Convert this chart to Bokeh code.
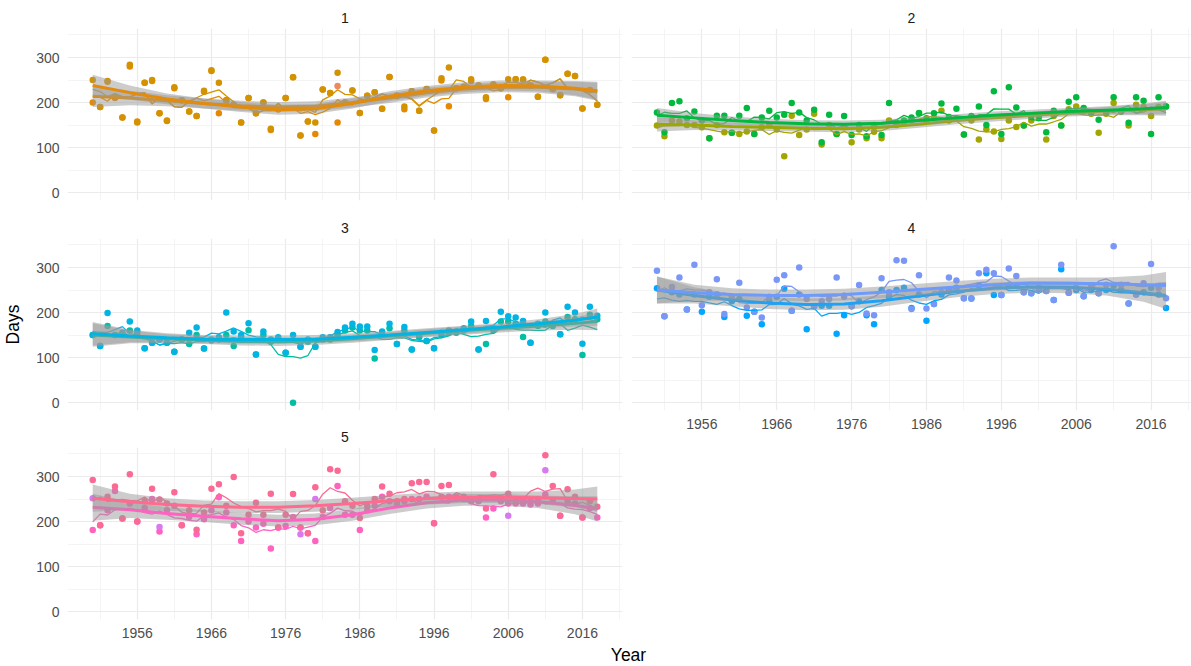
import pandas as pd
from bokeh.plotting import figure
from bokeh.layouts import row, column
from bokeh.models import Range1d, FixedTicker, Label
from bokeh.embed import file_html
from bokeh.resources import INLINE

# ---------------- data ----------------
years = list(range(1950, 2019))
knot_years = [1950, 1955, 1960, 1965, 1970, 1975, 1980, 1985, 1990, 1995, 2000, 2005, 2010, 2015, 2018]
major_x = [1956, 1966, 1976, 1986, 1996, 2006, 2016]
minor_x = [1946, 1951, 1961, 1971, 1981, 1991, 2001, 2011, 2021]
major_y = [0, 100, 200, 300]
minor_y = [50, 150, 250, 350]

# Panel 1
p1_a = [250, 190, 248, 210, 167, 284, 156, 244, 250, 176,
        159, 234, 205, 180, 170, 226, 272, 244, 205, 195,
        156, 210, 176, 200, 142, 185, 210, 256, 127, 158,
        156, 229, 221, 266, 200, 227, 177, 215, 223, 186,
        257, 215, 191, 225, 182, 230, 138, 254, 278, 232,
        235, 252, 238, 212, 240, 232, 252, 252, 251, 238,
        213, 295, 230, 216, 264, 259, 187, 228, 195]
p1_b = [200, 190, 246, 212, 167, 280, 158, 244, 248, 176,
        160, 232, 205, 180, 170, 224, 270, 176, 205, 195,
        156, 210, 176, 200, 139, 185, 210, 256, 127, 158,
        130, 229, 221, 156, 200, 227, 177, 215, 223, 186,
        257, 215, 185, 225, 182, 230, 138, 249, 192, 232,
        235, 248, 238, 208, 240, 232, 212, 252, 251, 238,
        213, 295, 230, 216, 264, 259, 187, 228, 195]
p1_c_years = [1983]
p1_c = [237]
p1_smooth_a = [238, 222, 208, 198, 190, 184, 186, 198, 214, 226, 234, 238, 237, 232, 226]
p1_smooth_b = [214, 210, 204, 198, 193, 190, 192, 200, 210, 222, 230, 234, 234, 230, 224]
p1_se = [24, 16, 12, 11, 11, 11, 11, 11, 11, 11, 11, 11, 12, 16, 20]

# Panel 2
p2_a = [178, 134, 199, 203, 165, 180, 160, 121, 171, 171,
        133, 171, 188, 130, 167, 182, 167, 173, 199, 178,
        160, 184, 112, 173, 130, 170, 128, 150, 125, 150,
        128, 199, 155, 160, 167, 177, 165, 176, 198, 168,
        186, 129, 170, 191, 150, 225, 130, 234, 189, 149,
        168, 170, 134, 182, 149, 202, 212, 188, 178, 162,
        178, 212, 180, 155, 212, 204, 130, 212, 191]
p2_b = [149, 125, 160, 158, 150, 150, 145, 121, 150, 134,
        133, 130, 136, 130, 145, 150, 140, 81, 171, 128,
        140, 175, 107, 150, 130, 145, 112, 140, 121, 135,
        121, 160, 150, 155, 160, 176, 160, 165, 182, 160,
        165, 129, 160, 118, 141, 136, 119, 160, 146, 149,
        160, 165, 118, 170, 149, 185, 191, 180, 175, 133,
        175, 199, 180, 149, 195, 190, 170, 190, 191]
p2_smooth_a = [172, 166, 160, 156, 153, 152, 154, 160, 166, 172, 176, 180, 183, 186, 189]
p2_smooth_b = [152, 150, 147, 145, 143, 142, 145, 152, 160, 166, 172, 177, 181, 184, 186]
p2_se = [16, 11, 9, 8, 8, 8, 8, 8, 8, 8, 8, 8, 9, 12, 15]

# Panel 3
p3_a = [150, 126, 199, 150, 155, 180, 160, 121, 133, 140,
        133, 113, 140, 155, 167, 120, 140, 145, 200, 158,
        150, 176, 107, 158, 140, 145, 111, 150, 124, 140,
        124, 145, 145, 157, 167, 175, 169, 169, 117, 158,
        175, 130, 168, 118, 150, 137, 121, 155, 160, 158,
        165, 180, 118, 181, 165, 202, 192, 189, 181, 133,
        175, 200, 175, 152, 213, 200, 131, 213, 193]
p3_b = [150, 126, 170, 150, 150, 160, 155, 121, 133, 140,
        133, 113, 140, 130, 150, 120, 138, 140, 150, 126,
        145, 161, 107, 150, 135, 140, 111, 0, 124, 135,
        124, 140, 140, 150, 160, 167, 160, 160, 98, 150,
        165, 130, 160, 118, 145, 137, 121, 150, 155, 155,
        160, 170, 118, 130, 160, 180, 180, 175, 146, 133,
        170, 180, 170, 152, 190, 185, 106, 195, 185]
p3_smooth_a = [153, 148, 144, 141, 140, 140, 141, 145, 150, 156, 162, 168, 175, 183, 190]
p3_smooth_b = [150, 146, 142, 139, 136, 135, 137, 142, 148, 154, 160, 165, 170, 176, 180]
p3_se = [26, 14, 10, 9, 9, 9, 9, 9, 9, 9, 9, 9, 10, 14, 19]

# Panel 4
p4_a = [293, 192, 257, 278, 207, 306, 216, 245, 274, 197,
        235, 266, 211, 202, 189, 235, 273, 283, 204, 300,
        230, 214, 225, 230, 278, 235, 214, 261, 198, 194,
        276, 245, 316, 315, 208, 283, 209, 219, 245, 278,
        271, 232, 231, 287, 295, 287, 239, 298, 281, 245,
        243, 255, 248, 228, 306, 244, 255, 236, 260, 243,
        262, 347, 262, 220, 240, 265, 308, 255, 232]
p4_b = [254, 192, 245, 240, 207, 240, 202, 235, 240, 190,
        225, 230, 193, 202, 174, 225, 235, 253, 204, 240,
        163, 214, 215, 215, 153, 194, 214, 225, 194, 174,
        250, 235, 250, 255, 210, 240, 182, 219, 240, 250,
        255, 232, 231, 260, 287, 239, 239, 260, 260, 245,
        243, 250, 248, 228, 296, 244, 250, 236, 250, 243,
        250, 260, 250, 220, 240, 245, 255, 240, 210]
p4_smooth_a = [250, 244, 240, 238, 238, 240, 245, 251, 257, 262, 265, 265, 264, 262, 260]
p4_smooth_b = [250, 238, 228, 221, 218, 219, 226, 237, 247, 254, 257, 256, 252, 244, 238]
p4_se = [30, 18, 14, 13, 13, 13, 13, 13, 13, 13, 13, 13, 14, 20, 30]

# Panel 5
p5_a = [292, 192, 255, 278, 207, 305, 200, 245, 273, 249,
        240, 265, 192, 225, 182, 220, 273, 283, 235, 299,
        174, 215, 242, 215, 262, 187, 215, 261, 187, 174,
        276, 225, 316, 313, 245, 235, 208, 235, 250, 278,
        262, 245, 250, 285, 288, 288, 196, 279, 281, 255,
        255, 250, 250, 229, 305, 250, 262, 245, 250, 245,
        250, 347, 279, 213, 272, 255, 209, 245, 233]
p5_b = [181, 192, 225, 268, 207, 240, 200, 230, 250, 178,
        225, 235, 192, 210, 172, 205, 225, 254, 220, 192,
        157, 200, 187, 195, 140, 187, 190, 210, 187, 174,
        157, 210, 230, 279, 215, 215, 181, 225, 235, 255,
        245, 240, 245, 250, 250, 255, 196, 255, 255, 250,
        250, 245, 245, 209, 229, 245, 240, 240, 240, 238,
        240, 260, 245, 213, 245, 240, 209, 230, 209]
p5_c_years = [1950, 1959, 1978, 1980, 2006, 2011]
p5_c = [252, 188, 172, 250, 213, 314]
p5_smooth_a = [252, 244, 238, 234, 232, 232, 235, 240, 246, 251, 254, 254, 253, 251, 250]
p5_smooth_b = [232, 226, 218, 212, 206, 202, 205, 215, 230, 242, 248, 248, 244, 236, 228]
p5_se = [30, 18, 14, 13, 13, 13, 13, 13, 13, 13, 13, 13, 14, 20, 28]

# ---------------- styling / layout constants ----------------
FONT = "Liberation Sans"
FRAME_W, FRAME_H = 560, 172
X_RANGE = (1946.6, 2021.4)
Y_RANGE = (-17.4, 364.4)
RIBBON = "#999999"
RIBBON_ALPHA = 0.5


def rolling(vals):
    return pd.Series(vals, dtype=float).rolling(5, center=True, min_periods=1).mean().tolist()


def panel(num, series, extra, smooths, se, show_x, show_y, ylabel, left, right, top, bottom):
    p = figure(width=left + FRAME_W + right, height=top + FRAME_H + bottom,
               x_range=Range1d(*X_RANGE), y_range=Range1d(*Y_RANGE),
               min_border_left=left, min_border_right=right,
               min_border_top=top, min_border_bottom=bottom,
               output_backend="svg", toolbar_location=None, title=str(num))
    p.outline_line_color = None
    p.background_fill_color = "white"
    p.border_fill_color = "white"
    t = p.title
    t.align = "center"
    t.text_font = FONT
    t.text_font_size = "14px"
    t.text_font_style = "normal"
    t.text_color = "#1A1A1A"
    t.standoff = 12

    xt = FixedTicker(ticks=major_x, minor_ticks=minor_x)
    yt = FixedTicker(ticks=major_y, minor_ticks=minor_y)
    p.xaxis.ticker = xt
    p.yaxis.ticker = yt
    p.xgrid.ticker = xt
    p.ygrid.ticker = yt
    for g in (p.xgrid, p.ygrid):
        g.grid_line_color = "#EBEBEB"
        g.grid_line_width = 1.2
        g.minor_grid_line_color = "#F1F1F1"
        g.minor_grid_line_width = 0.8
    for ax in (p.xaxis, p.yaxis):
        ax.axis_line_color = None
        ax.major_tick_line_color = None
        ax.minor_tick_line_color = None
        ax.major_tick_out = 0
        ax.major_tick_in = 0
        ax.minor_tick_out = 0
        ax.minor_tick_in = 0
        ax.major_label_text_font = FONT
        ax.major_label_text_font_size = "14px"
        ax.major_label_text_color = "#4D4D4D"
        ax.major_label_standoff = 8
    p.xaxis.visible = show_x
    p.yaxis.visible = show_y
    if ylabel:
        p.yaxis.axis_label = ylabel
        p.yaxis.axis_label_text_font = FONT
        p.yaxis.axis_label_text_font_size = "17.5px"
        p.yaxis.axis_label_text_font_style = "normal"
        p.yaxis.axis_label_text_color = "#000000"
        p.yaxis.axis_label_standoff = 10

    # points (background series first)
    for vals, color in reversed(series):
        p.scatter(years, vals, size=6.5, color=color, line_color=None)
    for yrs, vals, color in extra:
        p.scatter(yrs, vals, size=6.5, color=color, line_color=None)
    # thin running-mean lines
    for vals, color in reversed(series):
        p.line(years, rolling(vals), line_color=color, line_width=1.3)
    # smooths with ribbons
    for sm, color in smooths:
        lo = [v - e for v, e in zip(sm, se)]
        hi = [v + e for v, e in zip(sm, se)]
        p.varea(x=knot_years, y1=lo, y2=hi, fill_color=RIBBON, fill_alpha=RIBBON_ALPHA)
        p.line(knot_years, sm, line_color=color, line_width=3)
    return p


L, GAP_L, GAP_R = 62, 4, 5

f1 = panel(1, [(p1_a, "#D39200"), (p1_b, "#E58A00")], [(p1_c_years, p1_c, "#EC8A5E")],
           [(p1_smooth_b, "#E58A00"), (p1_smooth_a, "#E38B0B")], p1_se,
           False, True, None, L, GAP_L, 28, 10)
f2 = panel(2, [(p2_a, "#00B93E"), (p2_b, "#A3A500")], [],
           [(p2_smooth_b, "#9AA800"), (p2_smooth_a, "#00B93E")], p2_se,
           False, False, None, GAP_R, 0, 28, 10)
f3 = panel(3, [(p3_a, "#00B4E4"), (p3_b, "#00BFA5")], [],
           [(p3_smooth_b, "#00BFA5"), (p3_smooth_a, "#00B4E4")], p3_se,
           False, True, "Days", L, GAP_L, 28, 10)
f4 = panel(4, [(p4_a, "#7A97F8"), (p4_b, "#00A6FF")], [],
           [(p4_smooth_b, "#1FA2F5"), (p4_smooth_a, "#6E9BFA")], p4_se,
           True, False, None, GAP_R, 0, 28, 22)
f5 = panel(5, [(p5_a, "#FB6A94"), (p5_b, "#FF62C0")], [(p5_c_years, p5_c, "#D77AF0")],
           [(p5_smooth_b, "#FF62C0"), (p5_smooth_a, "#FF6A8E")], p5_se,
           True, True, None, L, GAP_L, 27, 24)

fy = figure(width=1191, height=23, x_range=Range1d(0, 1), y_range=Range1d(0, 1),
            min_border=0, output_backend="svg", toolbar_location=None)
fy.axis.visible = False
fy.grid.visible = False
fy.outline_line_color = None
fy.add_layout(Label(x=628, y=12, x_units="screen", y_units="screen", text="Year",
                    text_align="center", text_baseline="middle", text_font=FONT,
                    text_font_size="17.5px", text_color="#000000"))

layout = column(row(column(f1, f3, f5), column(f2, f4)), fy)

open("out.html", "w").write(file_html(layout, INLINE))
